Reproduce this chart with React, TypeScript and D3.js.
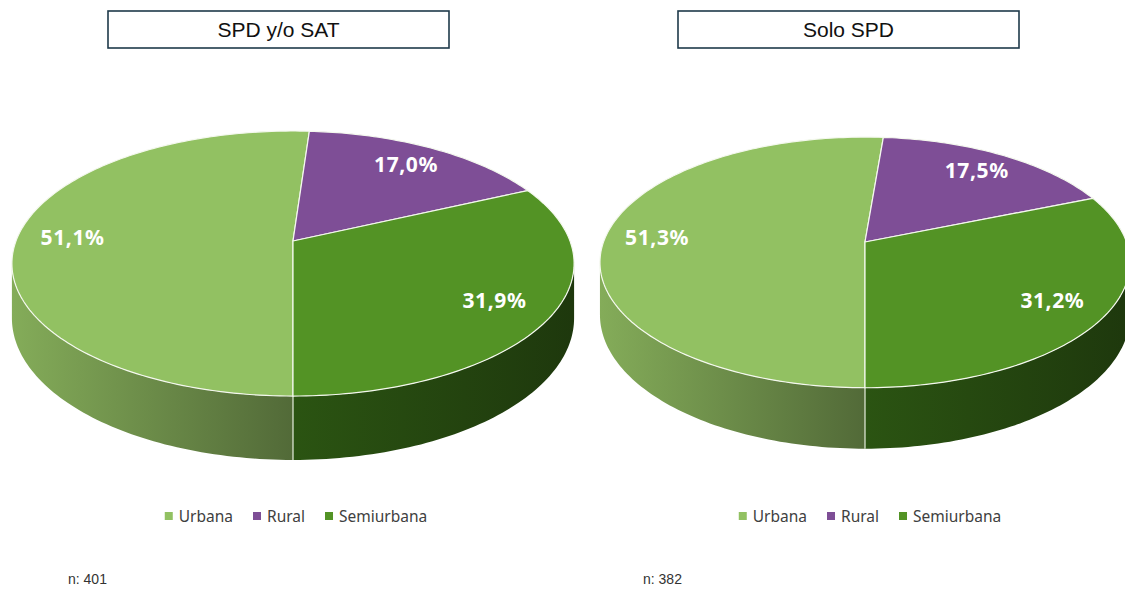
import * as d3 from 'd3';
import { useMemo } from 'react';

// Data
const categories = ['Urbana', 'Rural', 'Semiurbana'];
const spdSatValues = [51.1, 17.0, 31.9];
const soloSpdValues = [51.3, 17.5, 31.2];
const titles = ['SPD y/o SAT', 'Solo SPD'];
const sampleSizes = [401, 382];

const COLORS = ['#92C162', '#7E4E96', '#539325'];
// side gradients (left -> right) per slice
const SIDE_COLORS: [string, string][] = [
  ['#84AC59', '#526A38'],
  ['#4E2F5E', '#3C2448'],
  ['#2B5412', '#1E380D'],
];

const WIDTH = 1125;
const HEIGHT = 590;

type PanelLayout = {
  cx: number; cy: number; k: number; a: number; p: number; depth: number;
  boxX: number; boxW: number; legendCx: number; nX: number;
};

const LAYOUTS: PanelLayout[] = [
  { cx: 293, cy: 241, k: 277, a: 128.7, p: 0.17, depth: 53, boxX: 108, boxW: 341, legendCx: 296, nX: 68 },
  { cx: 865, cy: 242, k: 261.5, a: 122, p: 0.163, depth: 51, boxX: 678, boxW: 341, legendCx: 870, nX: 643 },
];

const fmt = (v: number) => v.toFixed(1).replace('.', ',') + '%';

let ctx: CanvasRenderingContext2D | null = null;
function textWidth(s: string, font: string) {
  if (!ctx) ctx = document.createElement('canvas').getContext('2d');
  if (!ctx) return s.length * 8;
  ctx.font = font;
  return ctx.measureText(s).width;
}

function Pie3D({ values, title, n, L, idx }: { values: number[]; title: string; n: number; L: PanelLayout; idx: number }) {
  // perspective projection of the pie disc
  const proj = (t: number, r: number, drop: number): [number, number] => {
    const u = r * Math.sin(t);
    const v = r * Math.cos(t);
    const d = 1 + L.p * v;
    return [L.cx + (L.k * u) / d, L.cy - (L.a * v) / d + drop / d];
  };

  const arcs = useMemo(
    () => d3.pie<number>().sort(null).startAngle(Math.PI).endAngle(3 * Math.PI)(values),
    [values]
  );

  const line = d3.line();

  const arcPts = (t0: number, t1: number, drop: number) => {
    const steps = Math.max(4, Math.ceil(Math.abs(t1 - t0) / 0.02));
    return d3.range(steps + 1).map(i => proj(t0 + ((t1 - t0) * i) / steps, 1, drop));
  };

  const topPath = (t0: number, t1: number) =>
    line([proj(0, 0, 0), ...arcPts(t0, t1, 0)]) + 'Z';

  // visible side range: cos(t) < -p
  const half = Math.acos(L.p);
  const visRanges = [
    [Math.PI - half, Math.PI + half],
    [3 * Math.PI - half, 3 * Math.PI + half],
  ];

  const sides: { path: string; i: number; key: string }[] = [];
  arcs.forEach((s, i) => {
    visRanges.forEach((r, j) => {
      const t0 = Math.max(s.startAngle, r[0]);
      const t1 = Math.min(s.endAngle, r[1]);
      if (t1 > t0) {
        const pts = [...arcPts(t0, t1, 0), ...arcPts(t1, t0, L.depth)];
        sides.push({ path: line(pts) + 'Z', i, key: `${i}-${j}` });
      }
    });
  });

  // front edge lines between slices that fall in visible range
  const edges = arcs
    .map(s => s.startAngle)
    .filter(t => visRanges.some(r => t > r[0] && t < r[1]));

  const legendFont = '15.5px "Noto Sans"';
  const itemW = categories.map(c => 14 + textWidth(c, legendFont));
  const gap = 20;
  const total = d3.sum(itemW) + gap * (categories.length - 1);
  let lx = L.legendCx - total / 2;
  const legendX = itemW.map(w => {
    const x = lx;
    lx += w + gap;
    return x;
  });

  return (
    <g>
      <rect x={L.boxX} y={11} width={L.boxW} height={37} fill="#fff" stroke="#1F3A4A" strokeWidth={1.6} />
      <text x={L.boxX + L.boxW / 2} y={37} textAnchor="middle" fontFamily='"Liberation Sans", Arial, sans-serif' fontSize={21} fill="#111">
        {title}
      </text>

      <defs>
        {SIDE_COLORS.map((c, i) => (
          <linearGradient key={i} id={`side-${idx}-${i}`} x1="0" x2="1" y1="0" y2="0">
            <stop offset="0%" stopColor={c[0]} />
            <stop offset="100%" stopColor={c[1]} />
          </linearGradient>
        ))}
      </defs>

      {sides.map(s => (
        <path key={s.key} d={s.path} fill={`url(#side-${idx}-${s.i})`} />
      ))}
      {edges.map((t, i) => {
        const [x1, y1] = proj(t, 1, 0);
        const [x2, y2] = proj(t, 1, L.depth);
        return <line key={i} x1={x1} y1={y1} x2={x2} y2={y2} stroke="#E8EEE0" strokeWidth={1.2} />;
      })}

      {arcs.map((s, i) => (
        <path key={i} d={topPath(s.startAngle, s.endAngle)} fill={COLORS[i]} stroke="#F4F8EE" strokeWidth={1.2} strokeLinejoin="round" />
      ))}

      {arcs.map((s, i) => {
        const mid = (s.startAngle + s.endAngle) / 2;
        const [x, y] = proj(mid, 0.8, 0);
        return (
          <text key={i} x={x} y={y} dy="0.35em" textAnchor="middle" fontFamily='"Noto Sans", sans-serif' fontWeight="bold" fontSize={21} letterSpacing={0.6} fill="#fff">
            {fmt(s.data)}
          </text>
        );
      })}

      {categories.map((c, i) => (
        <g key={c} transform={`translate(${legendX[i]},0)`}>
          <rect x={0} y={512} width={8} height={8} fill={COLORS[i]} />
          <text x={14} y={521.5} fontFamily='"Noto Sans", sans-serif' fontSize={15.5} fill="#404040">
            {c}
          </text>
        </g>
      ))}

      <text x={L.nX} y={584} fontFamily='"Liberation Sans", Arial, sans-serif' fontSize={14} fill="#333">
        n: {n}
      </text>
    </g>
  );
}

export default function App() {
  const series = [spdSatValues, soloSpdValues];
  return (
    <svg width={WIDTH} height={HEIGHT} style={{ position: 'absolute', left: 0, top: 0, background: '#fff' }}>
      {series.map((vals, i) => (
        <Pie3D key={i} idx={i} values={vals} title={titles[i]} n={sampleSizes[i]} L={LAYOUTS[i]} />
      ))}
    </svg>
  );
}
